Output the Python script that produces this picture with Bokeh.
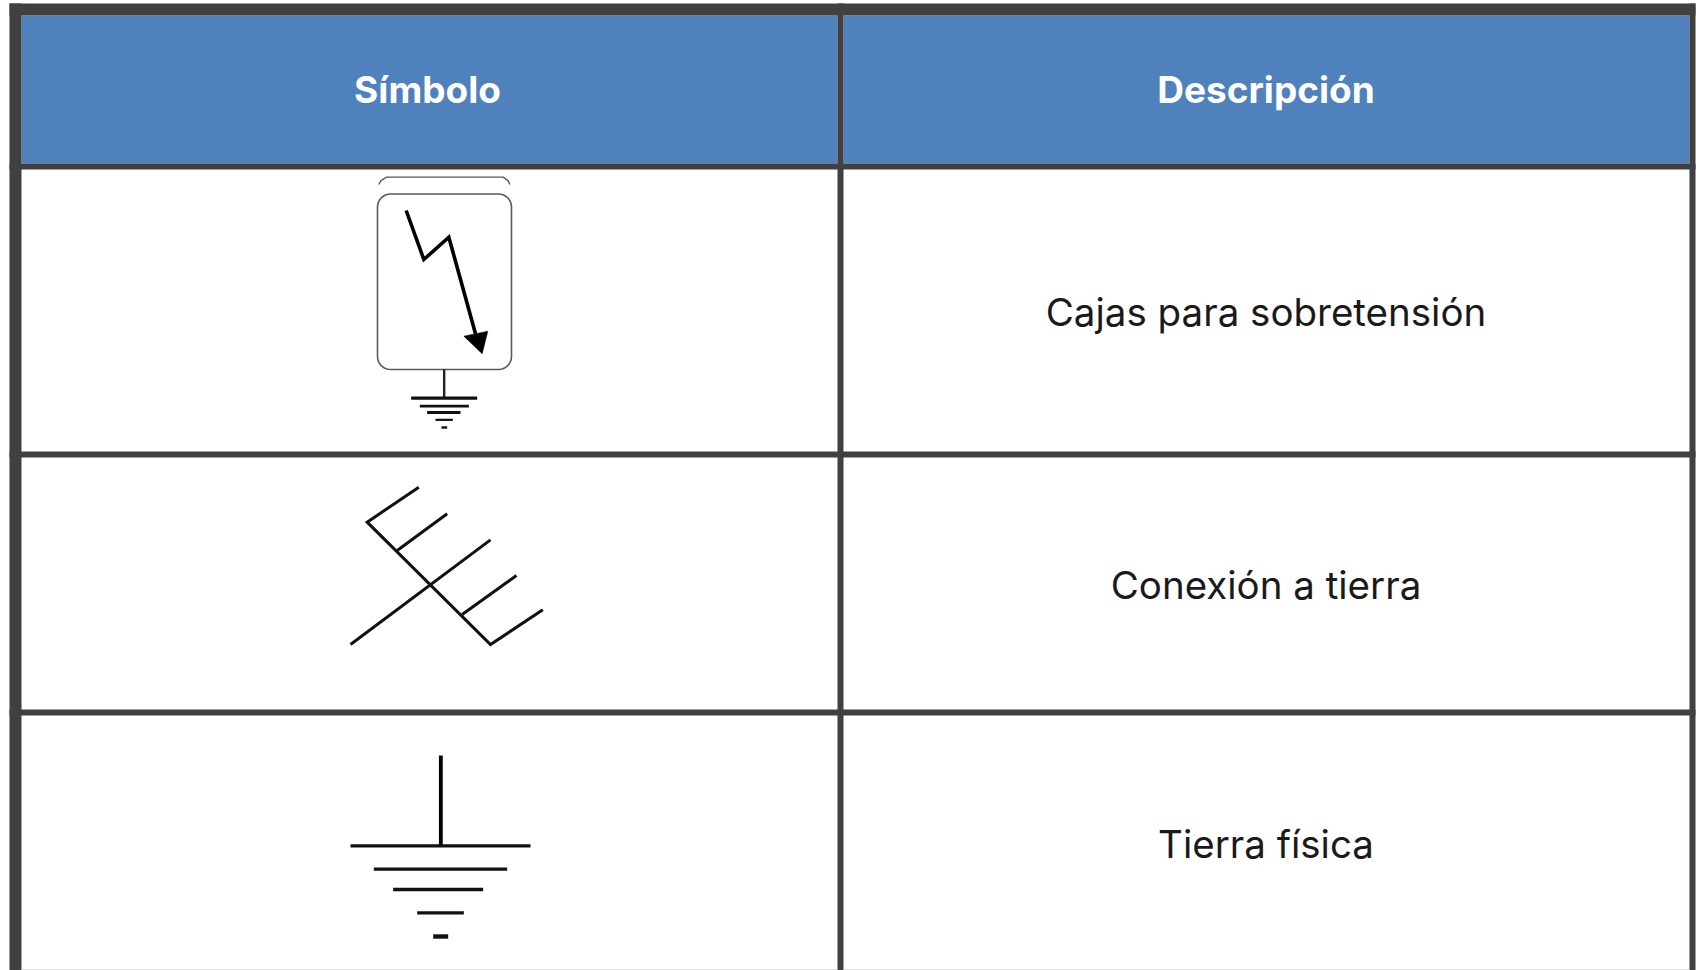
import numpy as np
from bokeh.plotting import figure
from bokeh.models import Range1d
from bokeh.core.properties import value
from bokeh.embed import file_html
from bokeh.resources import INLINE

W, H = 1696, 970
headers = ["Símbolo", "Descripción"]
descriptions = ["Cajas para sobretensión", "Conexión a tierra", "Tierra física"]

BORDER = "#404040"
BLUE = "#4F81BD"
FONT = "Inter"

p = figure(width=W, height=H, output_backend="svg", toolbar_location=None,
           x_range=Range1d(0, W), y_range=Range1d(H, 0),
           min_border=0, outline_line_color=None,
           background_fill_color="white", border_fill_color="white",
           margin=(0, 0, 0, 0))
p.axis.visible = False
p.grid.visible = False

# table: header band, rules
p.quad(left=[21], right=[837], top=[15], bottom=[163], fill_color=BLUE, line_color=None)
p.quad(left=[843], right=[1689], top=[15], bottom=[163], fill_color=BLUE, line_color=None)
h_rules = [(3, 15), (163, 169), (451, 457), (709, 715)]
v_rules = [(9, 21), (837, 843), (1689, 1695)]
p.quad(left=[9]*4, right=[1695]*4, top=[r[0] for r in h_rules], bottom=[r[1] for r in h_rules],
       fill_color=BORDER, line_color=None)
p.quad(left=[r[0] for r in v_rules], right=[r[1] for r in v_rules], top=[3]*3, bottom=[970]*3,
       fill_color=BORDER, line_color=None)
p.segment([21, 843], [969.5]*2, [837, 1689], [969.5]*2, line_color="#bdbdbd", line_width=1)

# texts
p.text(x=[427, 1265.5], y=[88.5, 88.5], text=headers, text_color="white",
       text_font=value(FONT), text_font_style="bold", text_font_size="37px",
       text_align="center", text_baseline="middle")
p.text(x=[1265.5]*3, y=[311.5, 584, 843.5], text=descriptions, text_color="#1a1a1a",
       text_font=value(FONT), text_font_size="38.5px",
       text_align="center", text_baseline="middle")


def zoom_pts(ox, oy, pts):
    return [ox + a / 3 for a, _ in pts], [oy + b / 3 for _, b in pts]


def draw(ox, oy, pts, width, color="black"):
    xs, ys = zoom_pts(ox, oy, pts)
    p.line(xs, ys, line_color=color, line_width=width, line_join="miter")


def rounded(x0, y0, x1, y1, r):
    a = np.linspace(0, np.pi / 2, 10)
    s, c = np.sin(a), np.cos(a)
    xs = np.r_[x0 + r - r*c, x1 - r + r*s, x1 - r + r*c, x0 + r - r*s]
    ys = np.r_[y0 + r - r*s, y0 + r - r*c, y1 - r + r*s, y1 - r + r*c]
    return np.r_[xs, xs[0]], np.r_[ys, ys[0]]


# Symbol 1: surge box
bx, by = rounded(377, 193.5, 511, 369, 13)
p.line(bx, by, line_color="#5a5a5a", line_width=1.6)
arc_pts = [(115, 72), (122, 60), (138, 50), (488, 50), (502, 60), (508, 72)]
draw(340, 160, arc_pts, 1.4, "#555555")
draw(340, 160, [(197, 150), (250, 297), (325, 230), (405, 520)], 3.6)
hx, hy = zoom_pts(340, 160, [(370, 527), (442, 512), (425, 580)])
p.patch(hx, hy, fill_color="black", line_color="black", line_width=0.5)
draw(340, 160, [(311, 627), (311, 712)], 2.4, "#222222")
for seg, w in [([(212, 713), (410, 713)], 3.2), ([(238, 737), (385, 737)], 2.6),
               ([(260, 756), (360, 756)], 2.8), ([(285, 778), (337, 778)], 2.2), ([(303, 801), (320, 801)], 2.4)]:
    draw(340, 160, seg, w, "#111111")

# Symbol 2: earth connection
for seg in [[(265, 50), (110, 155), (480, 522), (637, 418)],
            [(350, 130), (200, 240)], [(480, 208), (60, 522)], [(558, 315), (395, 432)]]:
    draw(330, 470, seg, 3, "#111111")

# Symbol 3: ground
draw(330, 740, [(331, 45), (331, 315)], 3.8)
for seg, w in [([(60, 316), (600, 316)], 3.4), ([(130, 386), (530, 386)], 3.4), ([(188, 447), (458, 447)], 3.4),
               ([(260, 517), (400, 517)], 3.4), ([(308, 588), (353, 588)], 4.4)]:
    draw(330, 740, seg, w, "#111111")

open("out.html", "w").write(file_html(p, INLINE))
